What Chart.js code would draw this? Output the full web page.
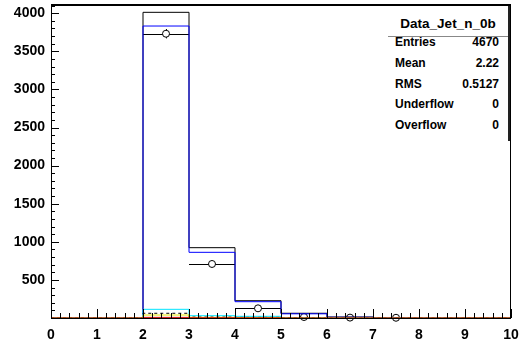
<!DOCTYPE html>
<html>
<head>
<meta charset="utf-8">
<script src="https://cdn.jsdelivr.net/npm/chart.js@4/dist/chart.umd.min.js"></script>
<style>
  body { margin: 0; background: #fff; }
  #wrap { position: relative; width: 520px; height: 341px; }
  #stats {
    position: absolute; left: 388px; top: 6px; width: 120px; height: 135px;
    background: #fff; border-right: 2px solid #222;
    font-family: "Liberation Sans", Arial, sans-serif; font-weight: bold; color: #000;
  }
  #stats .title { position: absolute; left: 0; width: 120px; top: 10px; text-align: center; font-size: 13.5px; }
  #stats .sep { position: absolute; left: 0; width: 120px; top: 30px; border-top: 1px solid #888; }
  #stats .row { position: absolute; left: 7px; width: 104px; font-size: 12px; height: 14px; }
  #stats .row span { position: absolute; right: 0; }
</style>
</head>
<body>
<div id="wrap">
  <canvas id="chart" width="520" height="341"></canvas>
  <div id="stats">
    <div class="title">Data_Jet_n_0b</div>
    <div class="sep"></div>
    <div class="row" style="top:29px">Entries<span>4670</span></div>
    <div class="row" style="top:50px">Mean<span>2.22</span></div>
    <div class="row" style="top:71px">RMS<span>0.5127</span></div>
    <div class="row" style="top:91px">Underflow<span>0</span></div>
    <div class="row" style="top:112px">Overflow<span>0</span></div>
  </div>
</div>
<script>
// bin low edges, bins are 1 wide from 0 to 10
const binLow = [0, 1, 2, 3, 4, 5, 6, 7, 8, 9];
const totalMC = [0, 0, 4012, 923, 227, 62, 13, 4, 1, 0];
const blueMC = [0, 0, 3832, 862, 214, 55, 10, 3, 1, 0];
const cyanMC = [0, 0, 114, 30, 22, 5, 1, 0, 0, 0];
const dashedMC = [0, 0, 62, 12, 8, 2, 0, 0, 0, 0];
const yellowMC = [0, 0, 39, 8, 5, 1, 0, 0, 0, 0];
const redMC = [0, 0, 8, 3, 2, 0, 0, 0, 0, 0];
const dataCounts = [0, 0, 3731, 709, 127, 13, 5, 3, 0, 0];
const yTicks = [500, 1000, 1500, 2000, 2500, 3000, 3500, 4000];

const chart = document.getElementById("chart");

function steps(vals) {
  const pts = binLow.map((x, i) => ({ x: x, y: vals[i] }));
  pts.push({ x: binLow[binLow.length - 1] + 1, y: vals[vals.length - 1] });
  return pts;
}

function stepSet(vals, color, dash) {
  return {
    type: "line",
    data: steps(vals),
    stepped: "before",
    borderColor: color,
    borderWidth: 1,
    borderDash: dash || [],
    pointRadius: 0,
    fill: false,
    clip: false,
  };
}

const dataPoints = binLow
  .map((x, i) => ({ x: x + 0.5, y: dataCounts[i] }))
  .filter((p) => p.y > 0);

const frameAndTicks = {
  id: "frameAndTicks",
  beforeDatasetDraw(c, args) {
    if (args.index !== 6) return;
    const ctx = c.ctx;
    const xs = c.scales.x;
    const ys = c.scales.y;
    ctx.save();
    ctx.strokeStyle = "#000";
    ctx.lineWidth = 1;
    dataPoints.forEach((p) => {
      const py = Math.round(ys.getPixelForValue(p.y)) + 0.5;
      const x0 = xs.getPixelForValue(p.x - 0.5);
      const x1 = xs.getPixelForValue(p.x + 0.5);
      const e = Math.sqrt(p.y);
      const px = Math.round(xs.getPixelForValue(p.x)) + 0.5;
      ctx.beginPath();
      ctx.moveTo(x0, py);
      ctx.lineTo(x1, py);
      ctx.moveTo(px, ys.getPixelForValue(p.y + e));
      ctx.lineTo(px, ys.getPixelForValue(Math.max(p.y - e, 0)));
      ctx.stroke();
    });
    ctx.restore();
  },
  afterDraw(c) {
    const ctx = c.ctx;
    const a = c.chartArea;
    const xs = c.scales.x;
    const ys = c.scales.y;
    ctx.save();
    ctx.strokeStyle = "#000";
    ctx.lineWidth = 1;
    ctx.beginPath();
    for (let v = 0; v <= 10.001; v += 0.2) {
      const px = Math.round(xs.getPixelForValue(v)) + 0.5;
      const major = Math.abs(v - Math.round(v)) < 0.001;
      ctx.moveTo(px, a.bottom);
      ctx.lineTo(px, a.bottom - (major ? 9 : 5));
    }
    for (let v = 0; v <= ys.max; v += 100) {
      const py = Math.round(ys.getPixelForValue(v)) + 0.5;
      const major = v % 500 === 0;
      ctx.moveTo(a.left, py);
      ctx.lineTo(a.left + (major ? 8 : 4), py);
    }
    ctx.stroke();
    ctx.strokeRect(a.left + 0.5, a.top + 0.5, a.right - a.left - 1, a.bottom - a.top);
    ctx.lineWidth = 2;
    ctx.beginPath();
    ctx.moveTo(a.left, a.top);
    ctx.lineTo(a.right, a.top);
    ctx.stroke();
    ctx.restore();
  },
};

new Chart(chart, {
  type: "line",
  data: {
    datasets: [
      stepSet(redMC, "#cc0000"),
      stepSet(yellowMC, "#e6e600"),
      stepSet(dashedMC, "#000", [3, 3]),
      stepSet(cyanMC, "#00e5ff"),
      stepSet(blueMC, "#0000ff"),
      stepSet(totalMC, "#000"),
      {
        type: "scatter",
        data: dataPoints,
        pointRadius: 3.5,
        pointBackgroundColor: "#fff",
        pointBorderColor: "#000",
        pointBorderWidth: 1,
        showLine: false,
        clip: false,
      },
    ],
  },
  plugins: [frameAndTicks],
  options: {
    responsive: false,
    animation: false,
    layout: { padding: { left: 0, right: 9, top: 5, bottom: 0 } },
    plugins: { legend: { display: false }, tooltip: { enabled: false } },
    scales: {
      x: {
        type: "linear",
        min: 0,
        max: 10,
        grid: { display: false },
        border: { display: false },
        afterFit: (s) => {
          s.height = 23;
          s.paddingLeft = 0;
          s.paddingRight = 0;
        },
        ticks: {
          stepSize: 1,
          padding: 1,
          maxRotation: 0,
          color: "#000",
          font: { family: "Liberation Sans", weight: "bold", size: 14 },
        },
      },
      y: {
        min: 0,
        max: 4108,
        grid: { display: false, drawTicks: false, tickLength: 0 },
        border: { display: false },
        afterFit: (s) => {
          s.width = 51;
          s.paddingTop = 0;
          s.paddingBottom = 0;
        },
        afterBuildTicks: (s) => { s.ticks = yTicks.map((v) => ({ value: v })); },
        ticks: {
          padding: 6,
          color: "#000",
          callback: (v) => String(v),
          font: { family: "Liberation Sans", weight: "bold", size: 14 },
        },
      },
    },
  },
});
</script>
</body>
</html>
